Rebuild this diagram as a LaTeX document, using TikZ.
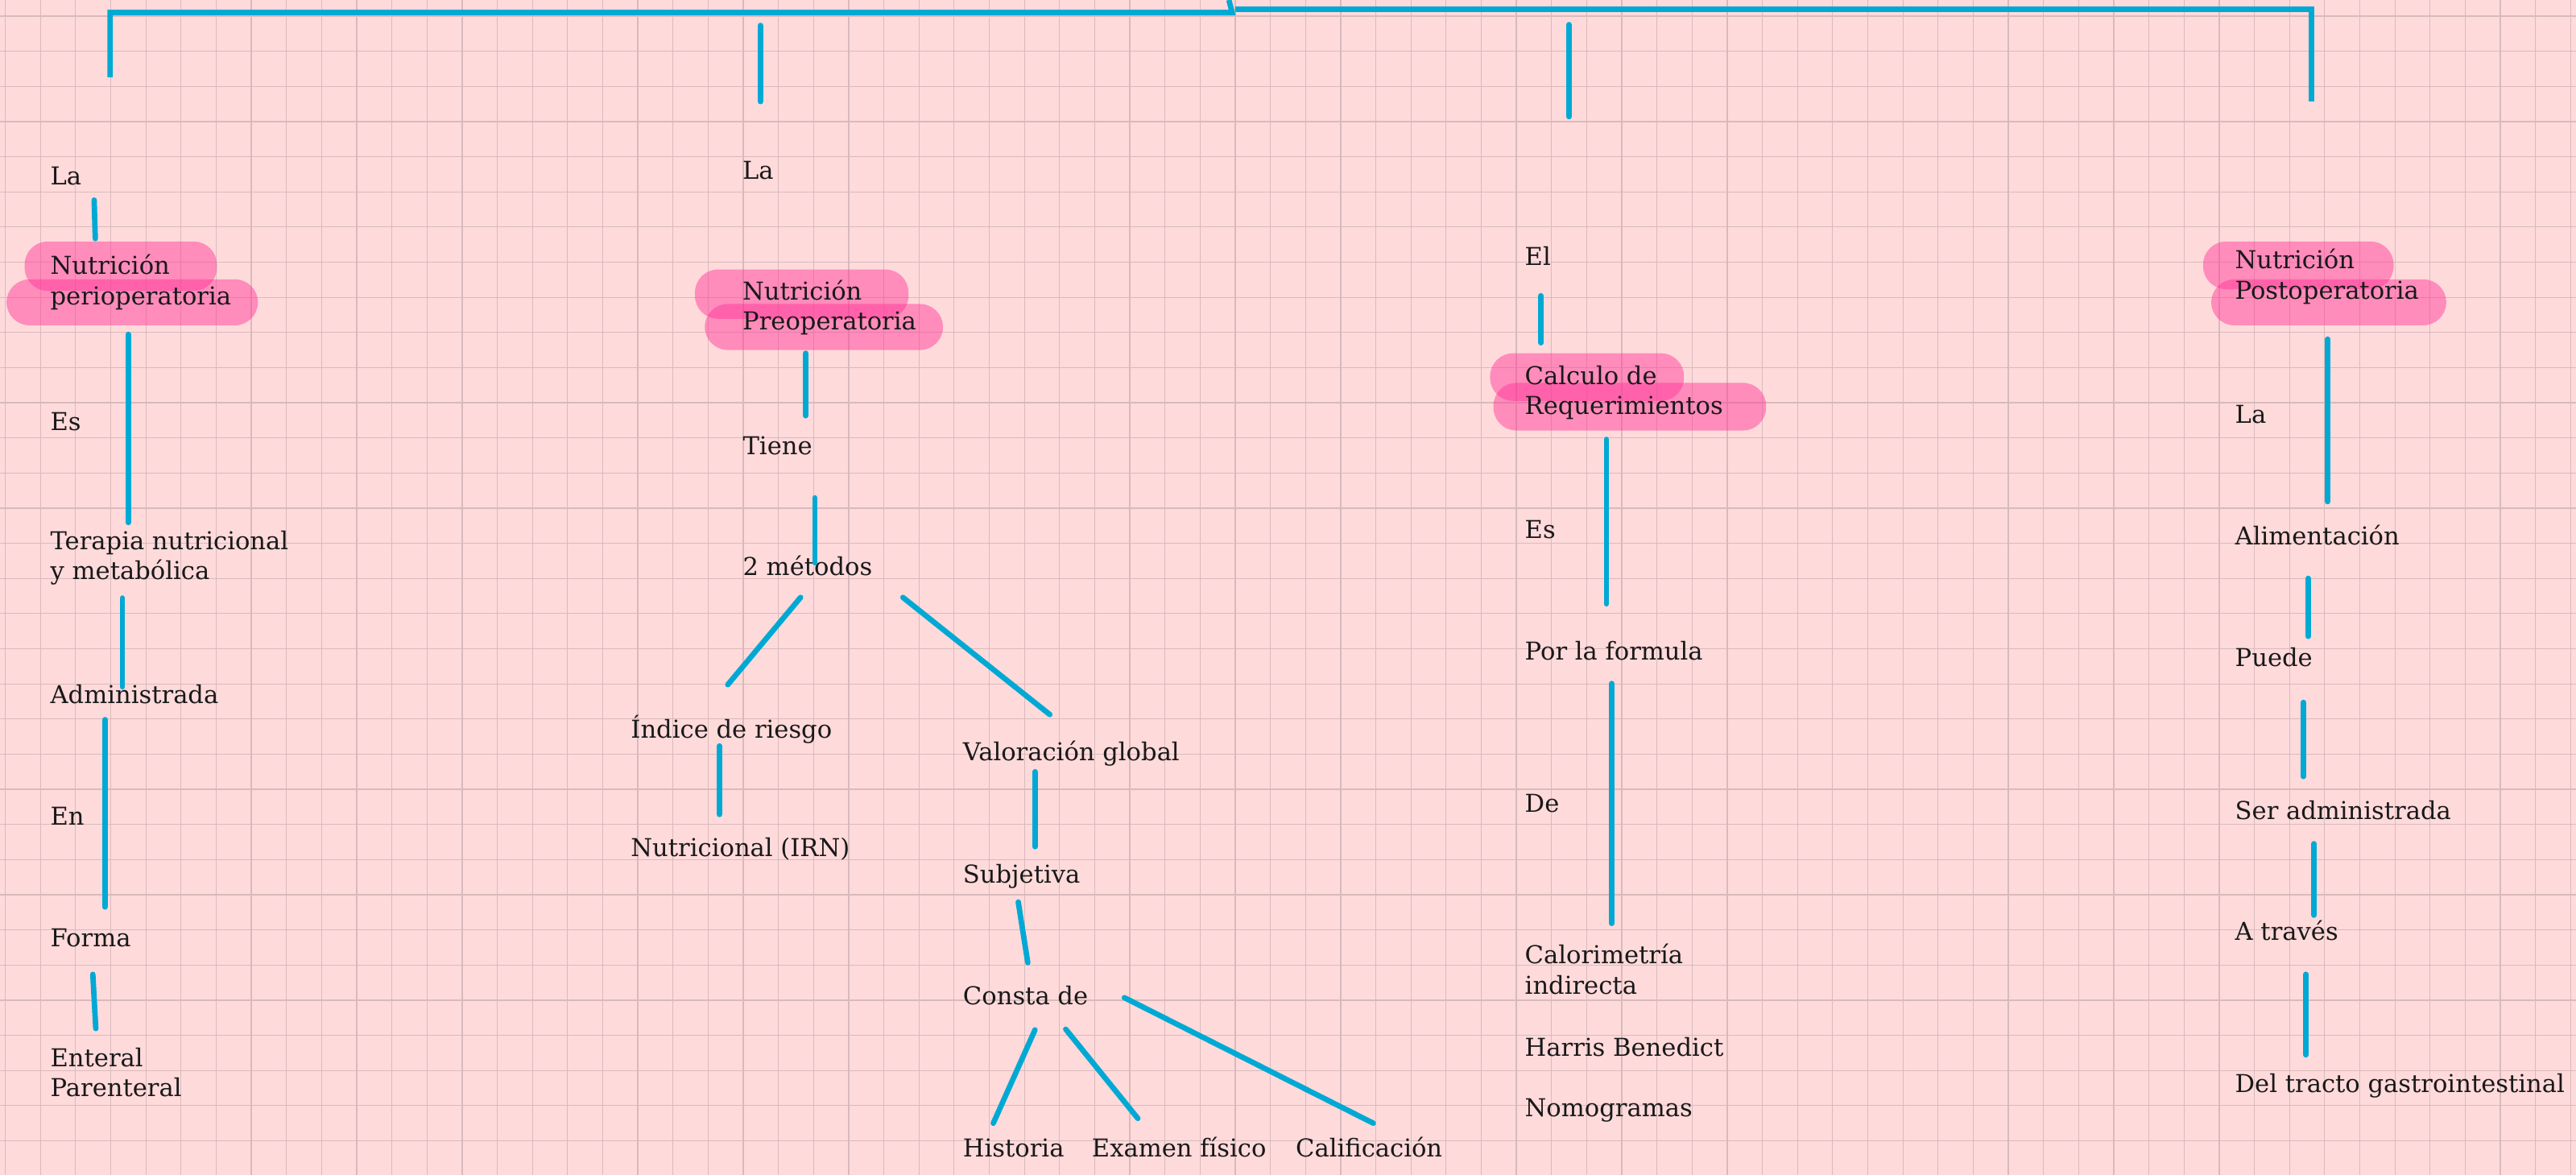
\documentclass[tikz,border=0pt]{standalone}
\usepackage{fontspec}
\setmainfont{DejaVu Serif}

\definecolor{paper}{RGB}{255,218,219}
\definecolor{gridc}{RGB}{216,186,188}
\definecolor{linkblue}{RGB}{0,169,212}
\definecolor{marker}{RGB}{255,47,150}

\tikzset{
  lbl/.style={anchor=north west,inner sep=0pt,align=left,text=black!90,
    font=\fontsize{15}{18.3}\selectfont,execute at begin node=\strut},
  link/.style={draw=linkblue,line width=3.3pt,line cap=round},
  hl/.style={fill=marker,fill opacity=0.45,rounded corners=14pt},
  gridline/.style={draw=gridc,line width=0.6pt}
}

\begin{document}
\begin{tikzpicture}
[x=1pt,y=-1pt]
\useasboundingbox (0,0) rectangle (1568,715);
\fill[paper] (0,0) rectangle (1568,715);
\foreach \i in {0,...,73}
\draw[gridline] ({3.23+21.39*\i},0) -- ({3.23+21.39*\i},715);
\foreach \j in {0,...,32}
\draw[gridline] (0,{9.8+21.39*\j}) -- (1568,{9.8+21.39*\j});

% marker highlights
\fill[hl] (15,147) rectangle (132,177);
\fill[hl] (4,170) rectangle (157,198);
\fill[hl] (423,164) rectangle (553,194);
\fill[hl] (429,185) rectangle (574,213);
\fill[hl] (907,215) rectangle (1025,244);
\fill[hl] (909,233) rectangle (1075,262);
\fill[hl] (1341,147) rectangle (1457,176);
\fill[hl] (1346,170) rectangle (1489,198);

% perioperatoria
\node[lbl] (la1) at (30.5,99.5) {La};
\node[lbl] (nutperi) at (30.5,154.9) {Nutrición\\perioperatoria};
\node[lbl] (es1) at (30.5,248.8) {Es};
\node[lbl] (terapia) at (30.5,322.7) {Terapia nutricional\\y metabólica};
\node[lbl] (admin) at (30.5,415) {Administrada};
\node[lbl] (en1) at (30.5,489.2) {En};
\node[lbl] (forma) at (30.5,563.2) {Forma};
\node[lbl] (enteral) at (30.5,637.5) {Enteral\\Parenteral};

% preoperatoria
\node[lbl] (la2) at (451.8,96.2) {La};
\node[lbl] (nutpre) at (451.8,170.2) {Nutrición\\Preoperatoria};
\node[lbl] (tiene) at (452,263.5) {Tiene};
\node[lbl] (metodos) at (452,337.3) {2 métodos};
\node[lbl] (indice) at (383.8,434.9) {Índice de riesgo};
\node[lbl] (irn) at (383.8,508.2) {Nutricional (IRN)};
\node[lbl] (valglobal) at (586,449.9) {Valoración global};
\node[lbl] (subjetiva) at (586,524.2) {Subjetiva};
\node[lbl] (consta) at (586,598.4) {Consta de};
\node[lbl] (historia) at (586,691.2) {Historia};
\node[lbl] (examen) at (664.4,691.2) {Examen físico};
\node[lbl] (calif) at (788.5,691.2) {Calificación};

% requerimientos
\node[lbl] (el3) at (928,148.5) {El};
\node[lbl] (calculo) at (928,222.5) {Calculo de\\Requerimientos};
\node[lbl] (es3) at (928,314.8) {Es};
\node[lbl] (formula) at (928,388.9) {Por la formula};
\node[lbl] (de3) at (928,481.5) {De};
\node[lbl] (calori) at (928,574.4) {Calorimetría\\indirecta};
\node[lbl] (harris) at (928,630) {Harris Benedict};
\node[lbl] (nomog) at (928,666.8) {Nomogramas};

% postoperatoria
\node[lbl] (nutpost) at (1360.3,151.4) {Nutrición\\Postoperatoria};
\node[lbl] (la4) at (1360.3,244.8) {La};
\node[lbl] (aliment) at (1360.3,318.7) {Alimentación};
\node[lbl] (puede) at (1360.3,392.6) {Puede};
\node[lbl] (seradm) at (1360.3,485.5) {Ser administrada};
\node[lbl] (atraves) at (1360.3,559.4) {A través};
\node[lbl] (tracto) at (1360.3,652.1) {Del tracto gastrointestinal};

% stroke ends
\coordinate (b1) at (67,47); \coordinate (b2) at (67,7.6);
\coordinate (b3) at (750,7.6); \coordinate (b4) at (748,0);
\coordinate (b5) at (752,5.7); \coordinate (b6) at (1407,5.7);
\coordinate (b7) at (1407,62);
\coordinate (t2a) at (462.8,15.5); \coordinate (t2b) at (462.8,61.8);
\coordinate (t3a) at (955,15); \coordinate (t3b) at (955,71);
\coordinate (la1s) at (57.3,121.8); \coordinate (nutperin) at (58,145.2);
\coordinate (nutperis) at (78,203.5); \coordinate (terapian) at (78,318);
\coordinate (terapias) at (74.5,364); \coordinate (adminn) at (74.5,418);
\coordinate (admins) at (63.8,438); \coordinate (forman) at (63.8,552);
\coordinate (formas) at (56.5,593); \coordinate (enteraln) at (58.3,626);
\coordinate (nutpres) at (490.4,215); \coordinate (tienen) at (490.4,253);
\coordinate (tienes) at (496,303); \coordinate (metodosn) at (496,342.5);
\coordinate (metodossw) at (487.3,363.6); \coordinate (indicen) at (443,416.7);
\coordinate (metodosse) at (549.6,363.6); \coordinate (valglobaln) at (639,434.9);
\coordinate (indices) at (438,454); \coordinate (irnn) at (438,495.7);
\coordinate (valglobals) at (630,469.7); \coordinate (subjetivan) at (630,515.3);
\coordinate (subjetivas) at (619.8,549); \coordinate (constan) at (625.6,585.9);
\coordinate (constas1) at (630,626.8); \coordinate (historian) at (604.6,683.6);
\coordinate (constas2) at (648.7,626.4); \coordinate (examenn) at (692.6,680.7);
\coordinate (constae) at (684.4,607.2); \coordinate (califn) at (835.9,683.6);
\coordinate (el3s) at (938,180); \coordinate (calculon) at (938,208.6);
\coordinate (calculos) at (977.8,267.4); \coordinate (formulan) at (977.8,367.5);
\coordinate (formulas) at (981,416); \coordinate (calorin) at (981,562);
\coordinate (nutposts) at (1416.9,206.4); \coordinate (alimentn) at (1416.9,305.3);
\coordinate (aliments) at (1405,352); \coordinate (pueden) at (1405,387.3);
\coordinate (puedes) at (1402,427.5); \coordinate (seradmn) at (1402,472.6);
\coordinate (seradms) at (1408.5,513.5); \coordinate (atravesn) at (1408.5,557);
\coordinate (atravess) at (1403.6,593); \coordinate (tracton) at (1403.6,642);

\draw[link,line cap=butt] (b1) -- (b2) -- (b3) -- (b4);
\draw[link,line cap=butt] (b5) -- (b6) -- (b7);
\foreach \from/\to in {t2a/t2b,t3a/t3b,la1s/nutperin,nutperis/terapian,terapias/adminn,admins/forman,formas/enteraln,nutpres/tienen,tienes/metodosn,metodossw/indicen,metodosse/valglobaln,indices/irnn,valglobals/subjetivan,subjetivas/constan,constas1/historian,constas2/examenn,constae/califn,el3s/calculon,calculos/formulan,formulas/calorin,nutposts/alimentn,aliments/pueden,puedes/seradmn,seradms/atravesn,atravess/tracton}
\draw[link] (\from) -- (\to);
\end{tikzpicture}
\end{document}
